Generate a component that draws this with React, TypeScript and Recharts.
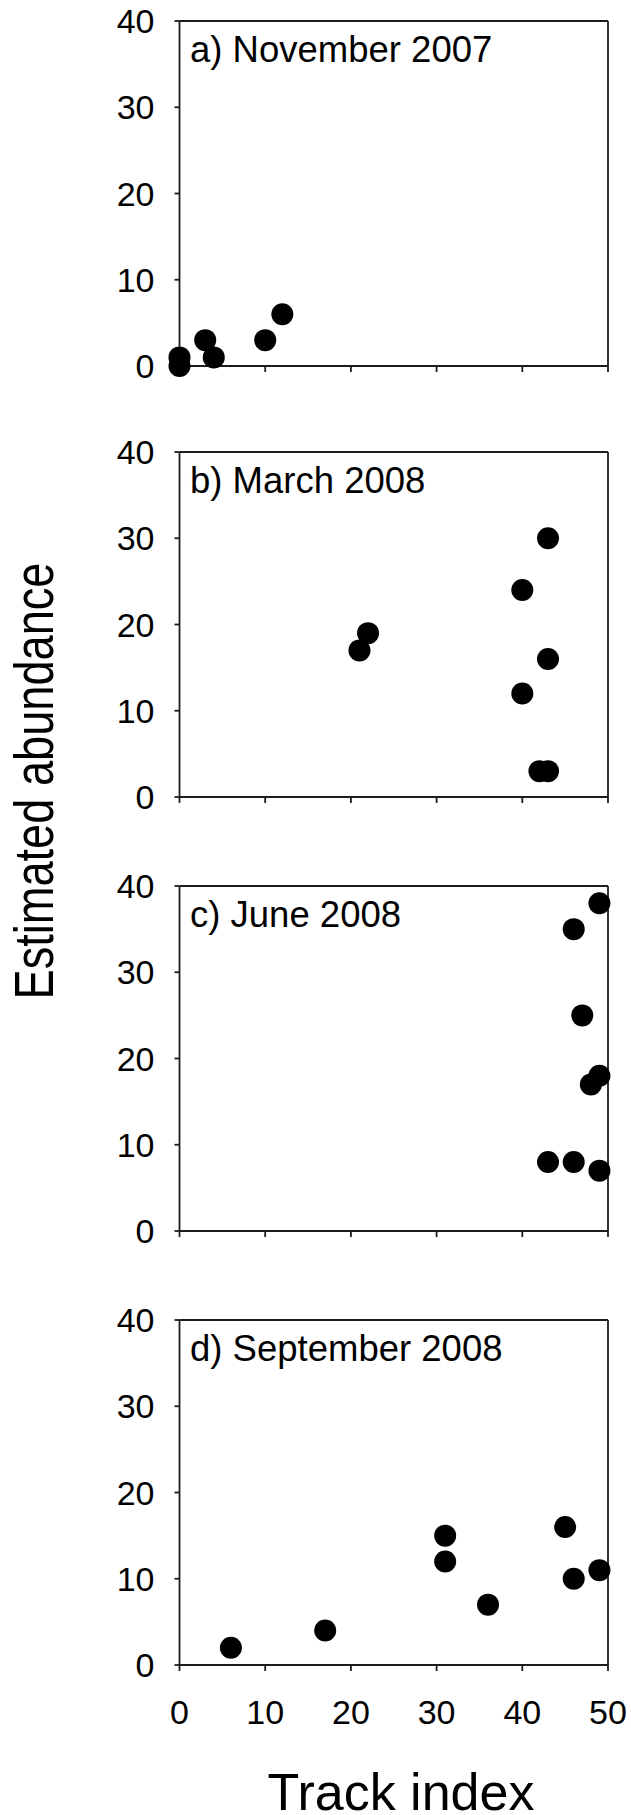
import React from 'react'
import { ReferenceLine, Scatter, ScatterChart, XAxis, YAxis } from 'recharts'

// track index / estimated abundance, one pair of arrays per survey
const novX = [0, 0, 3, 4, 10, 12]
const novY = [0, 1, 3, 1, 3, 6]

const marX = [21, 22, 40, 43, 43, 40, 42, 43]
const marY = [17, 19, 24, 30, 16, 12, 3, 3]

const junX = [49, 46, 47, 49, 48, 43, 46, 49]
const junY = [38, 35, 25, 18, 17, 8, 8, 7]

const sepX = [6, 17, 31, 31, 36, 45, 46, 49]
const sepY = [2, 4, 15, 12, 7, 16, 10, 11]

const xTicks = [0, 10, 20, 30, 40, 50]
const yTicks = [0, 10, 20, 30, 40]

const titles = ['a) November 2007', 'b) March 2008', 'c) June 2008', 'd) September 2008']

const FONT = '"Liberation Sans", Arial, Helvetica, sans-serif'
const INK = '#1c1c1c'

const toPoints = (xs: number[], ys: number[]) => xs.map((x, i) => ({ x, y: ys[i] }))

const panels = [
  { title: titles[0], data: toPoints(novX, novY), top: 1 },
  { title: titles[1], data: toPoints(marX, marY), top: 432 },
  { title: titles[2], data: toPoints(junX, junY), top: 866 },
  { title: titles[3], data: toPoints(sepX, sepY), top: 1299.5 },
]

const Dot = (props: any) => <circle cx={props.cx} cy={props.cy} r={11} fill="#000" />

function Panel({
  title,
  data,
  top,
  showX,
}: {
  title: string
  data: Array<{ x: number; y: number }>
  top: number
  showX: boolean
}) {
  return (
    <div style={{ position: 'absolute', left: 0, top }}>
      <ScatterChart width={631} height={435} margin={{ top: 20, right: 23, bottom: 10, left: 99.5 }}>
        <XAxis
          type="number"
          dataKey="x"
          domain={[0, 50]}
          ticks={xTicks}
          interval={0}
          height={60}
          tickSize={6}
          tickMargin={29}
          tickFormatter={(v) => (showX ? String(v) : '')}
          tick={{ fontSize: 34, fill: '#000', fontFamily: FONT }}
          axisLine={{ stroke: INK, strokeWidth: 1.8 }}
          tickLine={{ stroke: INK, strokeWidth: 1.8 }}
        />
        <YAxis
          type="number"
          dataKey="y"
          domain={[0, 40]}
          ticks={yTicks}
          interval={0}
          width={80}
          tickSize={5}
          tickMargin={20}
          tick={{ fontSize: 34, fill: '#000', fontFamily: FONT }}
          axisLine={{ stroke: INK, strokeWidth: 1.8 }}
          tickLine={{ stroke: INK, strokeWidth: 1.8 }}
        />
        <ReferenceLine
          y={40}
          stroke={INK}
          strokeWidth={1.8}
          label={(p: any) => (
            <text
              x={(p.viewBox?.x ?? 179.5) + 10.5}
              y={(p.viewBox?.y ?? 20) + 40.5}
              fontSize={36.5}
              fontFamily={FONT}
              fill="#000"
            >
              {title}
            </text>
          )}
        />
        <ReferenceLine x={50} stroke={INK} strokeWidth={1.8} />
        <Scatter data={data} fill="#000" shape={Dot} isAnimationActive={false} />
      </ScatterChart>
    </div>
  )
}

export default function App() {
  return (
    <div
      style={{
        position: 'absolute',
        left: 0,
        top: 0,
        width: 631,
        height: 1815,
        background: '#fff',
        overflow: 'hidden',
      }}
    >
      {panels.map((p, i) => (
        <Panel key={p.title} title={p.title} data={p.data} top={p.top} showX={i === panels.length - 1} />
      ))}
      <svg
        width={631}
        height={1815}
        style={{ position: 'absolute', left: 0, top: 0, pointerEvents: 'none' }}
      >
        <text
          x={53}
          y={781}
          transform="rotate(-90 53 781)"
          textAnchor="middle"
          fontSize={55}
          fontFamily={FONT}
          textLength={437}
          lengthAdjust="spacingAndGlyphs"
          fill="#000"
        >
          Estimated abundance
        </text>
        <text x={401} y={1810} textAnchor="middle" fontSize={52} fontFamily={FONT} fill="#000">
          Track index
        </text>
      </svg>
    </div>
  )
}
